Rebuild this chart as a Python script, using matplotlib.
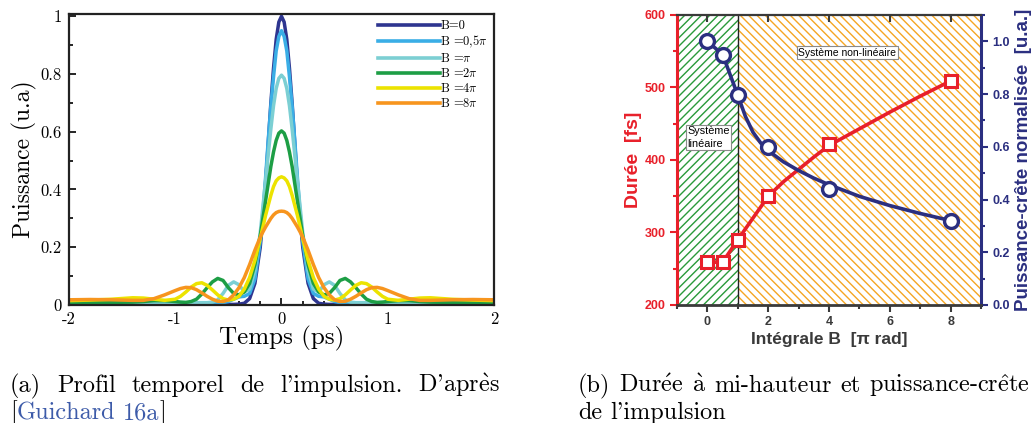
import matplotlib
matplotlib.use("Agg")
import matplotlib.pyplot as plt
from matplotlib.ticker import MultipleLocator, FormatStrFormatter
from matplotlib.transforms import IdentityTransform

# --- Données (a) : profils temporels, demi-profil t >= 0, symétrisés ensuite ---
T_DEMI = [0, 0.025, 0.05, 0.075, 0.1, 0.125, 0.15, 0.175, 0.2, 0.25, 0.3, 0.35, 0.4, 0.45, 0.5,
          0.55, 0.6, 0.65, 0.7, 0.75, 0.8, 0.85, 0.9, 0.95, 1.0, 1.1, 1.2, 1.3, 1.4, 1.6, 1.8, 2.0]
P_B0 = [1.0, 0.98, 0.92, 0.82, 0.70, 0.56, 0.42, 0.30, 0.20, 0.075, 0.022, 0.006, 0.003, 0.002, 0.002,
        0.002, 0.002, 0.002, 0.002, 0.002, 0.002, 0.002, 0.002, 0.002, 0.002, 0.002, 0.002, 0.002,
        0.002, 0.002, 0.002, 0.002]
P_B05 = [0.95, 0.93, 0.88, 0.79, 0.69, 0.57, 0.44, 0.32, 0.22, 0.09, 0.04, 0.03, 0.028, 0.02, 0.012,
         0.008, 0.006, 0.005, 0.005, 0.005, 0.004, 0.004, 0.004, 0.004, 0.004, 0.004, 0.004, 0.004,
         0.004, 0.004, 0.004, 0.004]
P_B1 = [0.796, 0.785, 0.75, 0.69, 0.61, 0.52, 0.43, 0.34, 0.25, 0.12, 0.055, 0.045, 0.07, 0.08, 0.068,
        0.04, 0.018, 0.01, 0.008, 0.008, 0.008, 0.008, 0.008, 0.008, 0.007, 0.007, 0.007, 0.006,
        0.006, 0.006, 0.006, 0.006]
P_B2 = [0.603, 0.595, 0.57, 0.53, 0.48, 0.42, 0.36, 0.30, 0.24, 0.14, 0.075, 0.045, 0.035, 0.04, 0.06,
        0.085, 0.092, 0.08, 0.06, 0.038, 0.02, 0.012, 0.009, 0.01, 0.012, 0.015, 0.015, 0.012,
        0.01, 0.009, 0.008, 0.008]
P_B4 = [0.444, 0.44, 0.43, 0.41, 0.38, 0.345, 0.31, 0.27, 0.23, 0.155, 0.095, 0.055, 0.03, 0.02, 0.017,
        0.022, 0.035, 0.052, 0.068, 0.077, 0.074, 0.062, 0.045, 0.03, 0.02, 0.016, 0.02, 0.024,
        0.025, 0.02, 0.017, 0.015]
P_B8 = [0.325, 0.324, 0.32, 0.312, 0.30, 0.285, 0.27, 0.253, 0.235, 0.19, 0.14, 0.095, 0.06, 0.035,
        0.018, 0.012, 0.013, 0.02, 0.03, 0.042, 0.053, 0.06, 0.061, 0.057, 0.05, 0.035, 0.022, 0.016,
        0.016, 0.018, 0.019, 0.018]
LABELS_A = ["B=0", r"B =0,5$\pi$", r"B =$\pi$", r"B =2$\pi$", r"B =4$\pi$", r"B =8$\pi$"]
COULEURS_A = ["#2e3590", "#3aaee6", "#7ccfd3", "#1d9e45", "#ece300", "#f7951e"]

# --- Données (b) : durée et puissance-crête en fonction de l'intégrale B ---
B_MESURE = [0, 0.5, 1, 2, 4, 8]
DUREE = [259, 259, 290, 350, 422, 509]
PUISSANCE = [1.0, 0.95, 0.795, 0.60, 0.44, 0.32]
# courbes d'ajustement
B_AJUST = [0, 0.5, 1, 1.25, 1.5, 1.75, 2, 2.5, 3, 3.5, 4, 5, 6, 7, 8]
DUREE_AJUST = [259, 259, 290, 305, 320, 335, 350, 370, 387, 404, 420, 443, 466, 488, 509]
PUISSANCE_AJUST = [1.0, 0.95, 0.795, 0.715, 0.655, 0.615, 0.585, 0.543, 0.51, 0.481, 0.456,
                   0.412, 0.377, 0.347, 0.32]

ROUGE = "#e8202a"
MARINE = "#2b2f80"
GRIS = "#3a3a3a"
BLEU_REF = "#3d5ba9"

plt.rcParams["mathtext.fontset"] = "cm"
plt.rcParams["axes.unicode_minus"] = False
SERIF = ["cmr10", "DejaVu Serif"]
SANS = "Liberation Sans"


def symetrise(t, p):
    return [-x for x in t[:0:-1]] + list(t), list(p[:0:-1]) + list(p)


def largeur(fig, txt, **kw):
    o = fig.text(0, 0, txt, **kw)
    w = o.get_window_extent(fig.canvas.get_renderer()).width
    o.remove()
    return w


def ligne(fig, mots, x0, y, x1=None, **kw):
    # mots : liste de listes de (texte, couleur) ; justifie la ligne si x1 est donné
    rend = fig.canvas.get_renderer()
    objs, largeurs = [], []
    for mot in mots:
        morceaux = []
        for txt, c in mot:
            o = fig.text(0, y, txt, transform=IdentityTransform(), va="baseline", color=c, **kw)
            morceaux.append((o, o.get_window_extent(rend).width))
        objs.append(morceaux)
        largeurs.append(sum(w for _, w in morceaux))
    if x1 is None:
        esp = largeur(fig, "a a", **kw) - 2 * largeur(fig, "a", **kw)
    else:
        esp = (x1 - x0 - sum(largeurs)) / max(len(mots) - 1, 1)
    x = x0
    for morceaux in objs:
        for o, w in morceaux:
            o.set_x(x)
            x += w
        x += esp


def noir(texte):
    return [[(m, "black")] for m in texte.split(" ")]


fig = plt.figure(figsize=(10.33, 4.23), dpi=100)

# ---------------- (a) ----------------
axa = fig.add_axes([0.0668, 0.279, 0.4114, 0.688])
for lab, p, c in zip(LABELS_A, [P_B0, P_B05, P_B1, P_B2, P_B4, P_B8], COULEURS_A):
    t, v = symetrise(T_DEMI, p)
    axa.plot(t, v, color=c, lw=2.5, label=lab)
axa.set_xlim(-2, 2)
axa.set_ylim(0, 1.008)
axa.set_xticks([-2, -1, 0, 1, 2])
axa.set_xticklabels(["-2", "-1", "0", "1", "2"], family=SERIF, fontsize=12)
axa.set_yticks([0, 0.2, 0.4, 0.6, 0.8, 1.0])
axa.set_yticklabels(["0", "0.2", "0.4", "0.6", "0.8", "1"], family=SERIF, fontsize=12)
axa.xaxis.set_minor_locator(MultipleLocator(0.2))
axa.yaxis.set_minor_locator(MultipleLocator(0.1))
axa.tick_params(which="both", direction="in", top=False, right=False, pad=5, width=1.2)
axa.tick_params(which="major", length=5)
axa.tick_params(which="minor", length=3)
for s in axa.spines.values():
    s.set_linewidth(1.6)
    s.set_color("#222222")
axa.set_xlabel("Temps (ps)", family=SERIF, fontsize=18, labelpad=-1)
axa.set_ylabel("Puissance (u.a)", family=SERIF, fontsize=17, labelpad=3)
leg = axa.legend(loc="upper right", frameon=False, handlelength=5.0, handletextpad=0.0,
                 labelspacing=0.15, borderaxespad=0.2, borderpad=0.3,
                 prop={"family": SERIF, "size": 9})
for h in leg.get_lines():
    h.set_linewidth(2.6)

# ---------------- (b) ----------------
axb = fig.add_axes([0.6554, 0.279, 0.2943, 0.6856])
axb.axvspan(-1, 1, facecolor="white", edgecolor="#2a9a3a", hatch="////", lw=0, zorder=0)
axb.axvspan(1, 9, facecolor="white", edgecolor="#f5a623", hatch="\\\\\\\\", lw=0, zorder=0)
axb.axvline(1, color="#222222", lw=1.0, zorder=1)
axb.plot(B_AJUST, DUREE_AJUST, color=ROUGE, lw=2.6, zorder=3)
axb.plot(B_MESURE, DUREE, "s", mfc="white", mec=ROUGE, ms=9, mew=2.2, zorder=4)
axb.set_xlim(-1, 9)
axb.set_ylim(200, 600)
axb.xaxis.set_major_locator(MultipleLocator(2))
axb.xaxis.set_minor_locator(MultipleLocator(1))
axb.yaxis.set_major_locator(MultipleLocator(100))
axb.yaxis.set_minor_locator(MultipleLocator(50))
axb.tick_params(axis="x", which="both", direction="out", colors=GRIS, top=False, width=1.5)
axb.tick_params(axis="y", which="both", direction="out", colors=ROUGE, width=1.5)
axb.tick_params(which="major", length=5, pad=3)
axb.tick_params(which="minor", length=3)
for lab in axb.get_xticklabels() + axb.get_yticklabels():
    lab.set_family(SANS)
    lab.set_fontweight("bold")
    lab.set_fontsize(9)
axb.text(-0.66, 431, "Système\nlinéaire", family=SANS, fontsize=7.8, ha="left", va="center",
         linespacing=1.3, zorder=2,
         bbox=dict(boxstyle="square,pad=0.15", fc="white", ec="#8a8a8a", lw=0.8))
axb.text(4.6, 548, "Système non-linéaire", family=SANS, fontsize=7.5, ha="center", va="center",
         zorder=2, bbox=dict(boxstyle="square,pad=0.15", fc="white", ec="#8a8a8a", lw=0.8))
axb.set_xlabel("Intégrale B  [π rad]", family=SANS, fontsize=12.5, fontweight="bold",
               color=GRIS, labelpad=3)
axb.set_ylabel("Durée  [fs]", family=SANS, fontsize=14, fontweight="bold", color=ROUGE,
               labelpad=2)

ax2 = axb.twinx()
ax2.plot(B_AJUST, PUISSANCE_AJUST, color=MARINE, lw=2.6, zorder=3)
ax2.plot(B_MESURE, PUISSANCE, "o", mfc="white", mec=MARINE, ms=10, mew=2.4, zorder=4)
ax2.set_ylim(0, 1.1)
ax2.yaxis.set_major_locator(MultipleLocator(0.2))
ax2.yaxis.set_minor_locator(MultipleLocator(0.1))
ax2.yaxis.set_major_formatter(FormatStrFormatter("%.1f"))
ax2.tick_params(axis="y", which="both", direction="out", colors=MARINE, width=1.5)
ax2.tick_params(axis="y", which="major", length=5, pad=3)
ax2.tick_params(axis="y", which="minor", length=3)
for lab in ax2.get_yticklabels():
    lab.set_family(SANS)
    lab.set_fontweight("bold")
    lab.set_fontsize(9)
ax2.xaxis.set_visible(True)
ax2.tick_params(axis="x", which="major", top=True, bottom=False, labeltop=False,
                labelbottom=False, direction="in", length=5, width=1.5, colors=GRIS)
ax2.tick_params(axis="x", which="minor", top=False, bottom=False)
ax2.set_ylabel("Puissance-crête normalisée  [u.a.]", family=SANS, fontsize=13.5,
               fontweight="bold", color=MARINE, labelpad=4)
ax2.spines["left"].set_color(ROUGE)
ax2.spines["left"].set_linewidth(2.2)
ax2.spines["right"].set_color(MARINE)
ax2.spines["right"].set_linewidth(2.2)
ax2.spines["bottom"].set_color(GRIS)
ax2.spines["bottom"].set_linewidth(2.0)
ax2.spines["top"].set_color(GRIS)
ax2.spines["top"].set_linewidth(1.6)
for s in axb.spines.values():
    s.set_visible(False)

# ---------------- légendes des sous-figures ----------------
CAP = dict(family=SERIF, fontsize=17.5)
H = 423
ligne(fig, noir(r"(a) Profil temporel de l'impulsion. D'apr$\mathrm{\grave{e}}$s"),
      10, H - 392, x1=500, **CAP)
ligne(fig, [[("[", "black"), ("Guichard", BLEU_REF)], [("16a", BLEU_REF), ("]", "black")]],
      10, H - 419, **CAP)
ligne(fig, noir(r"(b) Dur$\mathrm{\acute{e}}$e $\mathrm{\grave{a}}$ mi-hauteur et "
                r"puissance-cr$\mathrm{\hat{e}}$te"), 578, H - 392, x1=1030, **CAP)
ligne(fig, noir("de l'impulsion"), 578, H - 419, **CAP)

fig.savefig("out.png", dpi=100)
